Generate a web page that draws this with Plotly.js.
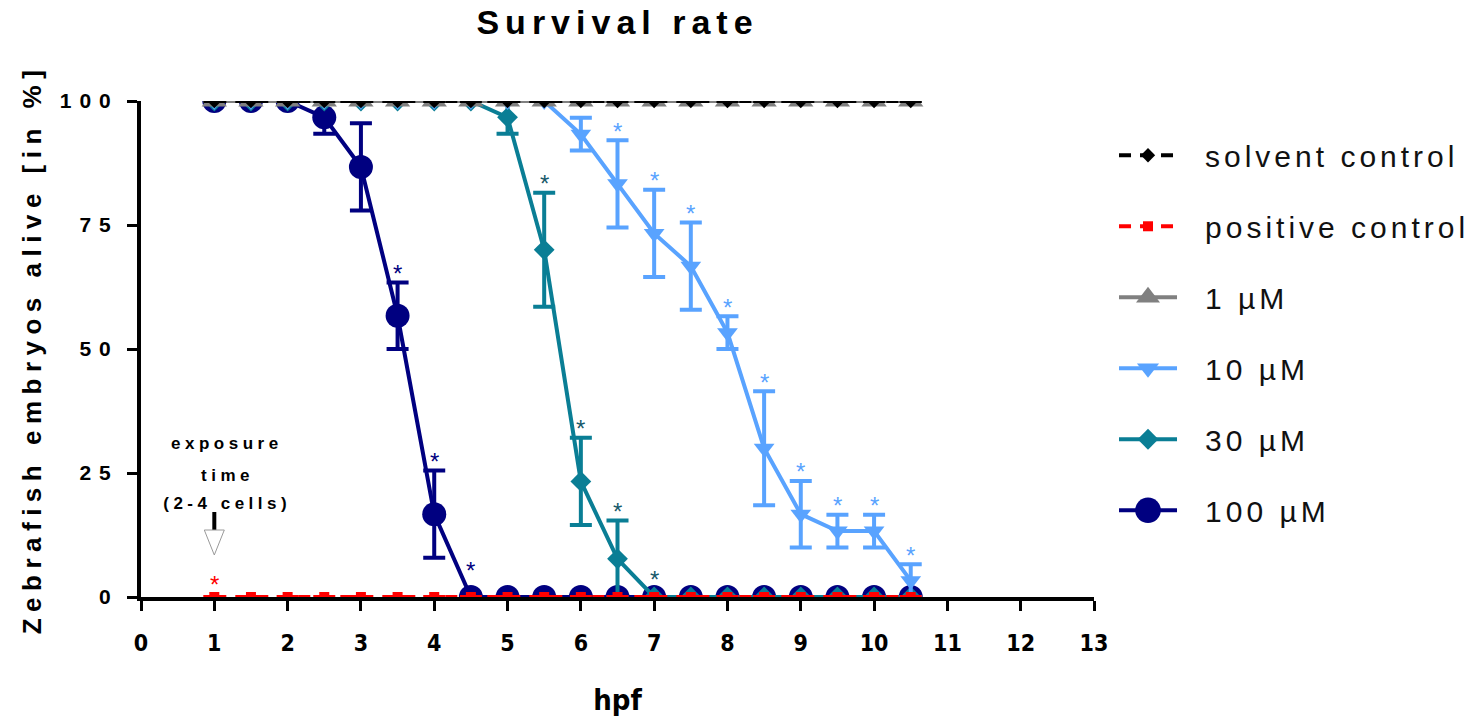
<!DOCTYPE html>
<html>
<head>
<meta charset="utf-8">
<script src="https://cdn.plot.ly/plotly-3.0.1.min.js"></script>
<style>
  html, body { margin: 0; padding: 0; background: #ffffff; }
  #chart { width: 1473px; height: 719px; }
  .gtitle { letter-spacing: 6px; }
  .g-ytitle text { letter-spacing: 6.5px; }
  .ytick text { letter-spacing: 8px; }
  .legend .scrollbox { clip-path: none !important; }
  .legendtext { letter-spacing: 4px; transform: translateX(23px); }
  .legend .groups:nth-child(3) .legendpoints path.scatterpts { transform: translate(34px, 0px) scale(1.3); }
  .legend .groups:nth-child(4) .legendpoints path.scatterpts { transform: translate(34px, 0px) scale(1.2); }
  .legend .groups:nth-child(6) .legendpoints path.scatterpts { transform: translate(34px, 0px) scale(1.6); }
  .annotation[data-index="0"] text,
  .annotation[data-index="1"] text,
  .annotation[data-index="2"] text { letter-spacing: 4.5px; }
</style>
</head>
<body>
<div id="chart"></div>
<script>
// Hours post fertilisation at which survival was scored
const hpf = [1, 1.5, 2, 2.5, 3, 3.5, 4, 4.5, 5, 5.5, 6, 6.5, 7, 7.5, 8, 8.5, 9, 9.5, 10, 10.5];

// Percentage of embryos alive (mean) per group
const solventControl  = [100, 100, 100, 100, 100, 100, 100, 100, 100, 100, 100, 100, 100, 100, 100, 100, 100, 100, 100, 100];
const positiveControl = [0, 0, 0, 0, 0, 0, 0, 0, 0, 0, 0, 0, 0, 0, 0, 0, 0, 0, 0, 0];
const conc1uM   = [100, 100, 100, 100, 100, 100, 100, 100, 100, 100, 100, 100, 100, 100, 100, 100, 100, 100, 100, 100];
const conc10uM  = [100, 100, 100, 100, 100, 100, 100, 100, 100, 100, 93.3, 83.3, 73.3, 66.7, 53.3, 30, 16.7, 13.3, 13.3, 3.3];
const conc30uM  = [100, 100, 100, 100, 100, 100, 100, 100, 96.7, 70, 23.3, 7.7, 0, 0, 0, 0, 0, 0, 0, 0];
const conc100uM = [100, 100, 100, 96.7, 86.7, 56.7, 16.7, 0, 0, 0, 0, 0, 0, 0, 0, 0, 0, 0, 0, 0];

// Error (SEM) per time point; 0 = no bar
const err10uM  = [0, 0, 0, 0, 0, 0, 0, 0, 0, 0, 3.3, 8.8, 8.8, 8.8, 3.3, 11.5, 6.7, 3.3, 3.3, 3.3];
const err30uM  = [0, 0, 0, 0, 0, 0, 0, 0, 3.3, 11.5, 8.8, 7.7, 0, 0, 0, 0, 0, 0, 0, 0];
const err100uM = [0, 0, 0, 3.3, 8.8, 6.7, 8.8, 0, 0, 0, 0, 0, 0, 0, 0, 0, 0, 0, 0, 0];
const errNone  = [0, 0, 0, 0, 0, 0, 0, 0, 0, 0, 0, 0, 0, 0, 0, 0, 0, 0, 0, 0];

// Time points flagged as significantly different (*)
const sigPositive = [1];
const sig10uM  = [6.5, 7, 7.5, 8, 8.5, 9, 9.5, 10, 10.5];
const sig30uM  = [5.5, 6, 6.5, 7];
const sig100uM = [3.5, 4, 4.5];

// Time of compound exposure
const exposureTime = 1;

const C = {
  solvent: '#000000',
  positive: '#ff0000',
  c1: '#808080',
  c10: '#59a3ff',
  c30: '#0a7e95',
  c30star: '#17596a',
  c100: '#000080'
};

const FONT = 'Liberation Sans, Arial, sans-serif';
const NARROW = 'Liberation Sans Narrow, DejaVu Sans Condensed, Liberation Sans, sans-serif';

function errArr(e) { return e.map(v => (v > 0 ? v : null)); }

function series(name, y, err, color, symbol, size, dash, rank) {
  return {
    type: 'scatter', mode: 'lines+markers', name: name,
    x: hpf, y: y,
    legendgroup: name, legendrank: rank,
    line: { color: color, width: 4, dash: dash || 'solid' },
    marker: { color: color, symbol: symbol, size: size, line: { width: 0 } },
    error_y: { type: 'data', array: errArr(err), visible: true, color: color, thickness: 4, width: 11 },
    cliponaxis: true, hoverinfo: 'skip'
  };
}

// drawn bottom-to-top: highest concentration first, controls last
const traces = [
  series('100 \u00b5M', conc100uM, err100uM, C.c100, 'circle', 24, null, 6),
  series('30 \u00b5M', conc30uM, err30uM, C.c30, 'diamond', 16, null, 5),
  series('10 \u00b5M', conc10uM, err10uM, C.c10, 'triangle-down', 18, null, 4),
  series('1 \u00b5M', conc1uM, errNone, C.c1, 'triangle-up', 22, null, 3),
  series('positive control', positiveControl, errNone, C.positive, 'square', 10, '12px,9px', 2),
  series('solvent control', solventControl, errNone, C.solvent, 'diamond', 11, '12px,9px', 1)
];

// significance stars sit above the error bar (or above the marker when there is none)
function stars(sigX, y, err, color, lift) {
  return sigX.map(t => {
    const i = hpf.indexOf(t);
    const e = err[i];
    return {
      x: t, y: y[i] + e, xref: 'x', yref: 'y', text: '*', showarrow: false,
      yanchor: 'middle', xanchor: 'center', yshift: e > 0 ? 9 : lift,
      font: { family: FONT, size: 24, color: color }
    };
  });
}

const exposureFont = { family: FONT, size: 17, color: '#000000', weight: 'bold' };
const annotations = [
  { x: exposureTime, y: 0, xref: 'x', yref: 'y', text: 'exposure', showarrow: false, xshift: 13, yshift: 154, yanchor: 'middle', font: exposureFont },
  { x: exposureTime, y: 0, xref: 'x', yref: 'y', text: 'time', showarrow: false, xshift: 13, yshift: 122, yanchor: 'middle', font: exposureFont },
  { x: exposureTime, y: 0, xref: 'x', yref: 'y', text: '(2-4 cells)', showarrow: false, xshift: 13, yshift: 94, yanchor: 'middle', font: exposureFont }
].concat(
  stars(sigPositive, positiveControl, errNone, C.positive, 13),
  stars(sig100uM, conc100uM, err100uM, C.c100, 27),
  stars(sig30uM, conc30uM, err30uM, C.c30star, 18),
  stars(sig10uM, conc10uM, err10uM, C.c10, 18)
);

// exposure marker: short black stem and an open arrow head pointing at the time axis
const shapes = [
  { type: 'line', xref: 'x', yref: 'y', xsizemode: 'pixel', ysizemode: 'pixel',
    xanchor: exposureTime, yanchor: 0, x0: 0, x1: 0, y0: 66, y1: 85,
    line: { color: '#000000', width: 4 } },
  { type: 'path', xref: 'x', yref: 'y', xsizemode: 'pixel', ysizemode: 'pixel',
    xanchor: exposureTime, yanchor: 0, path: 'M-10,67 L10,67 L0,42 Z',
    fillcolor: '#ffffff', line: { color: '#9a9a9a', width: 1 } }
];

const layout = {
  width: 1473, height: 719,
  margin: { l: 141, r: 379, t: 101, b: 122, pad: 0 },
  paper_bgcolor: '#ffffff', plot_bgcolor: '#ffffff',
  showlegend: true,
  title: {
    text: 'Survival rate', x: 0.5, xref: 'paper', xanchor: 'center',
    y: 0.969, yref: 'container', yanchor: 'middle',
    font: { family: FONT, size: 34, color: '#000000', weight: 'bold' }
  },
  xaxis: {
    range: [0, 13], tickmode: 'linear', tick0: 0, dtick: 1,
    showgrid: false, zeroline: false,
    showline: true, linecolor: '#000000', linewidth: 4,
    ticks: 'outside', ticklen: 10, tickwidth: 3, tickcolor: '#000000',
    ticklabelstandoff: 12,
    tickfont: { family: NARROW, size: 23, color: '#000000', weight: 'bold' },
    title: { text: 'hpf', standoff: 36, font: { family: NARROW, size: 29, color: '#000000', weight: 'bold' } },
    layer: 'below traces', fixedrange: true
  },
  yaxis: {
    range: [0, 100], tickmode: 'array', tickvals: [0, 25, 50, 75, 100],
    showgrid: false, zeroline: false,
    showline: true, linecolor: '#000000', linewidth: 4,
    ticks: 'outside', ticklen: 10, tickwidth: 3, tickcolor: '#000000',
    ticklabelstandoff: 4,
    tickfont: { family: FONT, size: 21, color: '#000000', weight: 'bold' },
    title: { text: 'Zebrafish embryos alive [in %]', standoff: 12, font: { family: FONT, size: 26, color: '#000000', weight: 'bold' } },
    layer: 'below traces', fixedrange: true
  },
  legend: {
    x: 1.021, xanchor: 'left', y: 0.943, yanchor: 'top',
    bgcolor: 'rgba(0,0,0,0)', borderwidth: 0,
    font: { family: FONT, size: 30, color: '#111111' },
    itemwidth: 58,
    tracegroupgap: 29, itemclick: false, itemdoubleclick: false
  },
  annotations: annotations,
  shapes: shapes
};

Plotly.newPlot('chart', traces, layout, { displayModeBar: false, staticPlot: true });
</script>
</body>
</html>
